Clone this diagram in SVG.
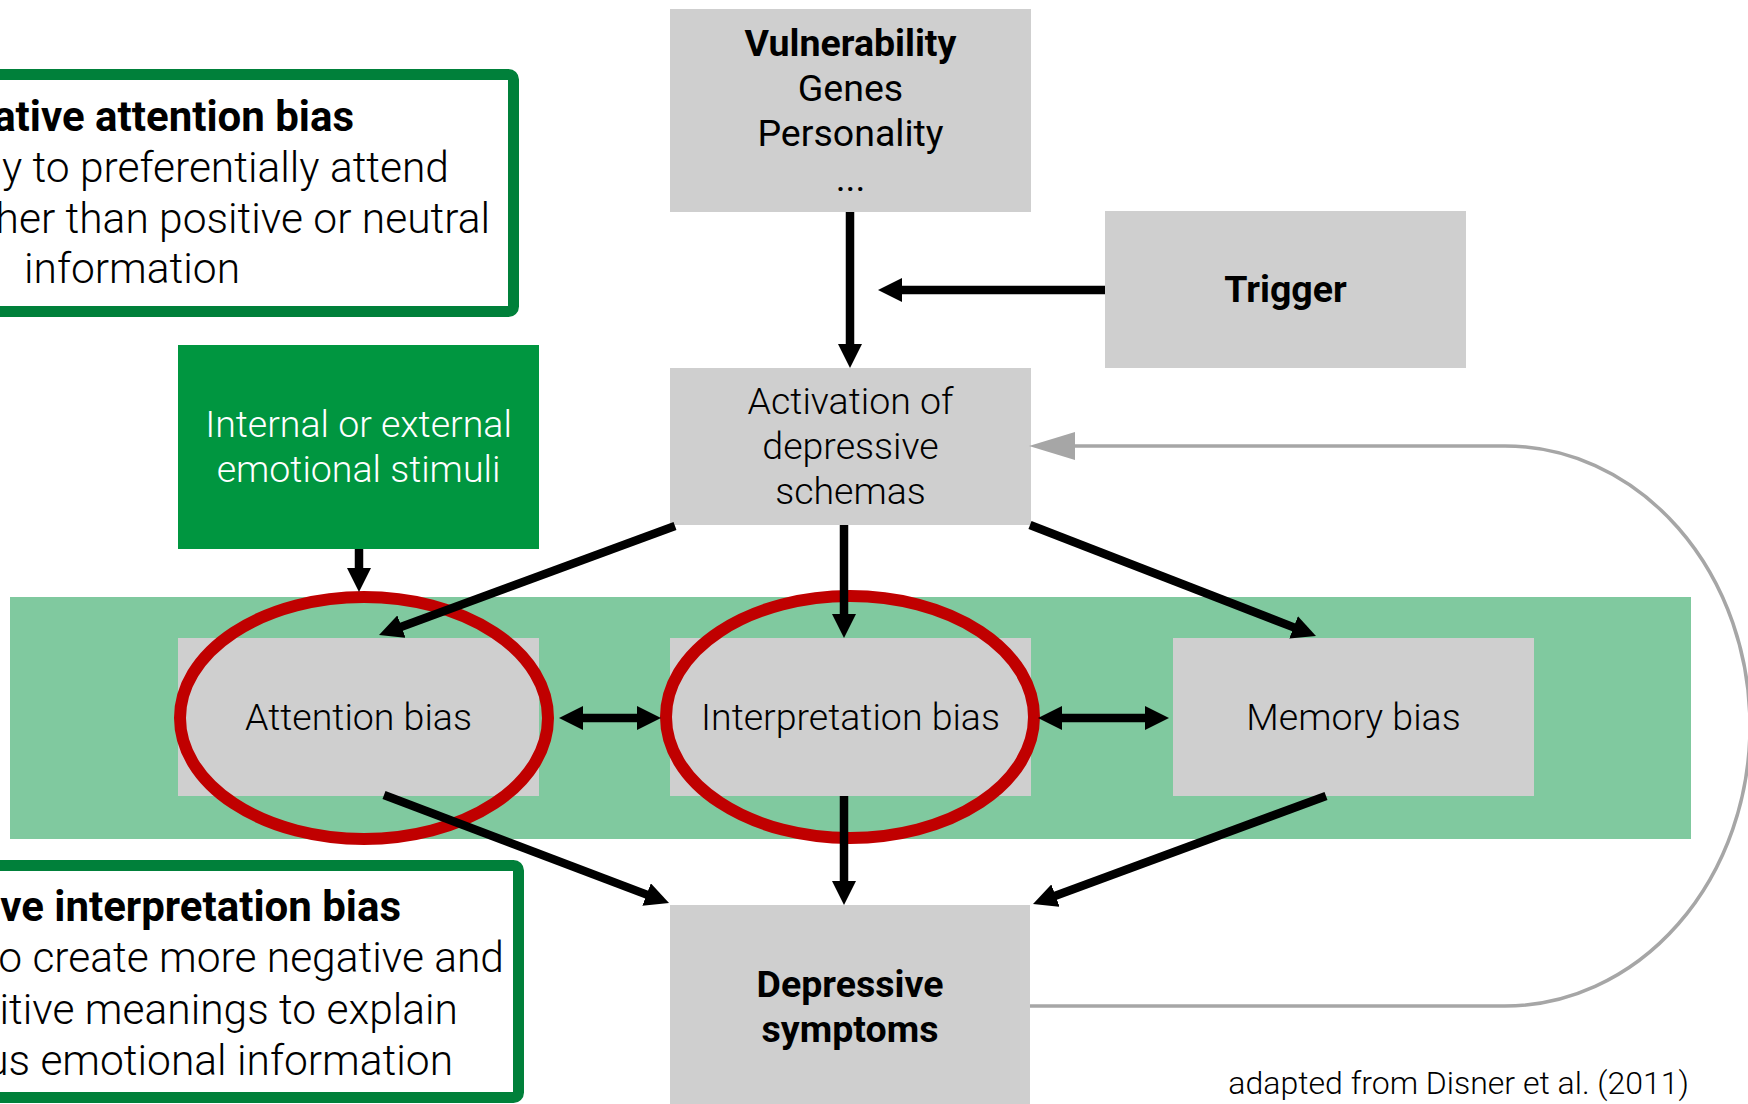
<svg xmlns="http://www.w3.org/2000/svg" width="1748" height="1104" viewBox="0 0 1748 1104">
  <style>
    text { font-family: Roboto, "Liberation Sans", sans-serif; fill: #000; }
    .box { fill: #cfcfcf; }
    .lbl { font-size: 37.5px; font-weight: 300; text-anchor: middle; }
    .reg { font-size: 37.5px; font-weight: 400; text-anchor: middle; }
    .bold { font-size: 37.5px; font-weight: 700; text-anchor: middle; }
    .callout { fill: #fff; stroke: #00803a; stroke-width: 11; }
    .ct { font-size: 42.5px; font-weight: 300; text-anchor: end; }
    .ch { font-size: 42px; font-weight: 700; text-anchor: end; }
    .arrow { stroke: #000; stroke-width: 8.5; fill: none; }
    .ring { fill: none; stroke: #c00000; stroke-width: 12; }
  </style>
  <defs>
    <marker id="head" markerUnits="userSpaceOnUse" viewBox="0 0 24 24" markerWidth="24" markerHeight="24" refX="3" refY="12" orient="auto-start-reverse">
      <path d="M0,0 L24,12 L0,24 z" fill="#000"/>
    </marker>
    <marker id="head-grey" markerUnits="userSpaceOnUse" viewBox="0 0 46 28" markerWidth="46" markerHeight="28" refX="2" refY="14" orient="auto">
      <path d="M0,0 L46,14 L0,28 z" fill="#a6a6a6"/>
    </marker>
  </defs>

  <rect width="1748" height="1104" fill="#fff"/>

  <!-- cognitive bias band -->
  <rect id="bias-band" x="10" y="597" width="1681" height="242" fill="#80c99f"/>

  <!-- definition callouts -->
  <g id="callout-attention">
    <rect class="callout" x="-20" y="74.5" width="533.5" height="237" rx="5"/>
    <text class="ch" x="354" y="131">ative attention bias</text>
    <text class="ct" x="449" y="181.5">y to preferentially attend</text>
    <text class="ct" x="490" y="232.5">her than positive or neutral</text>
    <text class="ct" x="240" y="283">information</text>
  </g>
  <g id="callout-interpretation">
    <rect class="callout" x="-20" y="865.5" width="538.5" height="232" rx="5"/>
    <text class="ch" x="401" y="921">ve interpretation bias</text>
    <text class="ct" x="504" y="972">o create more negative and</text>
    <text class="ct" x="458" y="1023.5">itive meanings to explain</text>
    <text class="ct" x="453" y="1075">us emotional information</text>
  </g>

  <!-- nodes -->
  <g id="node-vulnerability">
    <rect class="box" x="670" y="9" width="361" height="203"/>
    <text class="bold" x="850.5" y="55.5">Vulnerability</text>
    <text class="reg" x="850.5" y="100.5">Genes</text>
    <text class="reg" x="850.5" y="145.5">Personality</text>
    <text class="reg" x="850.5" y="190.5">...</text>
  </g>
  <g id="node-trigger">
    <rect class="box" x="1105" y="211" width="361" height="157"/>
    <text class="bold" x="1285.5" y="302">Trigger</text>
  </g>
  <g id="node-activation">
    <rect class="box" x="670" y="368" width="361" height="157"/>
    <text class="lbl" x="850.5" y="414">Activation of</text>
    <text class="lbl" x="850.5" y="459">depressive</text>
    <text class="lbl" x="850.5" y="504">schemas</text>
  </g>
  <g id="node-stimuli">
    <rect x="178" y="345" width="361" height="204" fill="#009640"/>
    <text class="lbl" x="358.5" y="437" style="fill:#fff">Internal or external</text>
    <text class="lbl" x="358.5" y="482" style="fill:#fff">emotional stimuli</text>
  </g>
  <g id="node-attention">
    <rect class="box" x="178" y="638" width="361" height="158"/>
    <text class="lbl" x="358.5" y="730">Attention bias</text>
  </g>
  <g id="node-interpretation">
    <rect class="box" x="670" y="638" width="361" height="158"/>
    <text class="lbl" x="850.5" y="730">Interpretation bias</text>
  </g>
  <g id="node-memory">
    <rect class="box" x="1173" y="638" width="361" height="158"/>
    <text class="lbl" x="1353.5" y="730">Memory bias</text>
  </g>
  <g id="node-depressive">
    <rect class="box" x="670" y="905" width="360" height="203"/>
    <text class="bold" x="850" y="997">Depressive</text>
    <text class="bold" x="850" y="1042">symptoms</text>
  </g>

  <!-- red highlight rings -->
  <g id="highlights">
    <ellipse class="ring" cx="364" cy="718" rx="184" ry="121"/>
    <ellipse class="ring" cx="850" cy="717" rx="184" ry="121"/>
  </g>

  <!-- connectors -->
  <g id="connectors">
    <line class="arrow" x1="850" y1="212" x2="850" y2="347" marker-end="url(#head)"/>
    <line class="arrow" x1="1105" y1="290" x2="899" y2="290" marker-end="url(#head)"/>
    <line class="arrow" x1="359" y1="549" x2="359" y2="571" marker-end="url(#head)"/>
    <line class="arrow" x1="675" y1="526" x2="398.7" y2="627.7" marker-end="url(#head)"/>
    <line class="arrow" x1="844" y1="525" x2="844" y2="617" marker-end="url(#head)"/>
    <line class="arrow" x1="1030" y1="525" x2="1296.4" y2="628.4" marker-end="url(#head)"/>
    <line class="arrow" x1="580" y1="718" x2="640" y2="718" marker-start="url(#head)" marker-end="url(#head)"/>
    <line class="arrow" x1="1059" y1="718" x2="1148" y2="718" marker-start="url(#head)" marker-end="url(#head)"/>
    <line class="arrow" x1="384" y1="795" x2="649.4" y2="895.6" marker-end="url(#head)"/>
    <line class="arrow" x1="844" y1="796" x2="844" y2="884" marker-end="url(#head)"/>
    <line class="arrow" x1="1326" y1="796" x2="1052.7" y2="896.7" marker-end="url(#head)"/>
    <path d="M1030,1006 H1505 A245,280 0 0 0 1505,446 H1073" fill="none" stroke="#a6a6a6" stroke-width="3.5" marker-end="url(#head-grey)"/>
  </g>

  <text id="citation" x="1689" y="1094" style="font-size:32px;font-weight:300;text-anchor:end">adapted from Disner et al. (2011)</text>
</svg>
